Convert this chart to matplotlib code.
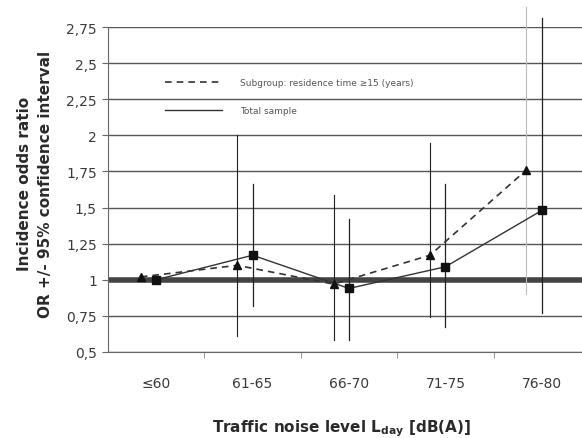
import matplotlib
matplotlib.use("Agg")
import matplotlib.pyplot as plt
import numpy as np

categories = ["≤60", "61-65", "66-70", "71-75", "76-80"]
sub_or = [1.02, 1.10, 0.97, 1.17, 1.76]
sub_lo = [1.02, 0.61, 0.58, 0.74, 0.90]
sub_hi = [1.02, 2.00, 1.59, 1.95, 2.89]
tot_or = [1.00, 1.17, 0.94, 1.09, 1.48]
tot_lo = [1.00, 0.82, 0.58, 0.67, 0.77]
tot_hi = [1.00, 1.66, 1.42, 1.66, 2.81]
yticks = [0.5, 0.75, 1, 1.25, 1.5, 1.75, 2, 2.25, 2.5, 2.75]
ytick_labels = ["0,5", "0,75", "1", "1,25", "1,5", "1,75", "2", "2,25", "2,5", "2,75"]

plt.rcParams['font.family'] = ['DejaVu Sans']
fig = plt.figure(figsize=(5.82, 4.39), dpi=100)
ax = fig.add_axes([108/582, 1-353/439, 482/582, (353-28)/439])

x = np.arange(len(categories))
off = 0.16
xs = x - off
xt = x

# grid lines
for yv in yticks:
    ax.axhline(yv, color="#555555", lw=1.0, zorder=1)
ax.axhline(1.0, color="#444444", lw=4, zorder=2)

# error bars
for i in range(len(categories)):
    c = "#bbbbbb" if i == len(categories)-1 else "#222222"
    if sub_hi[i] > sub_lo[i]:
        ax.plot([xs[i], xs[i]], [sub_lo[i], sub_hi[i]], color=c, lw=0.8, clip_on=False, zorder=3)
    if tot_hi[i] > tot_lo[i]:
        ax.plot([xt[i], xt[i]], [tot_lo[i], tot_hi[i]], color="#222222", lw=0.9, clip_on=False, zorder=3)

# lines
ax.plot(xs, sub_or, color="#333333", lw=1.2, ls=(0, (4, 3)), zorder=4,
        label="Subgroup: residence time ≥15 (years)")
ax.plot(xt, tot_or, color="#333333", lw=1.0, ls="-", zorder=4, label="Total sample")
ax.plot(xs, sub_or, ls="none", marker="^", ms=6, color="#111111", zorder=5)
ax.plot(xt, tot_or, ls="none", marker="s", ms=6, color="#111111", zorder=5)

ax.set_xlim(-0.5, len(categories) - 0.5)
ax.set_ylim(0.5, 2.75)
ax.set_yticks(yticks)
ax.set_yticklabels(ytick_labels)
ax.set_xticks(x)
ax.set_xticklabels(categories)
ax.set_xticks(np.arange(len(categories)) + 0.5, minor=True)
ax.tick_params(axis="x", which="major", length=0, pad=17, labelsize=10, labelcolor="#3a3a3a")
ax.tick_params(axis="x", which="minor", length=4, color="#888888", direction="out")
ax.tick_params(axis="y", length=4, color="#666666", labelsize=10, labelcolor="#3a3a3a", pad=4)

for s in ["top", "right"]:
    ax.spines[s].set_visible(False)
ax.spines["left"].set_color("#666666")
ax.spines["bottom"].set_color("#666666")

ax.set_xlabel("Traffic noise level L$_{\\mathbf{day}}$ [dB(A)]", fontsize=11, fontweight="bold",
              color="#2a2a2a")
ax.xaxis.set_label_coords((342-108)/482, -0.2)
ax.set_ylabel("Incidence odds ratio\nOR +/- 95% confidence interval", fontsize=11,
              fontweight="bold", color="#2a2a2a", linespacing=1.45)
ax.yaxis.set_label_coords(-0.115, 0.52)

leg = ax.legend(loc="upper left", bbox_to_anchor=(0.111, 0.855), frameon=False,
                fontsize=6.5, handlelength=6.3, labelspacing=2.1, handletextpad=2.0,
                labelcolor="#555555", borderaxespad=0)

fig.savefig("out.png", dpi=100)
